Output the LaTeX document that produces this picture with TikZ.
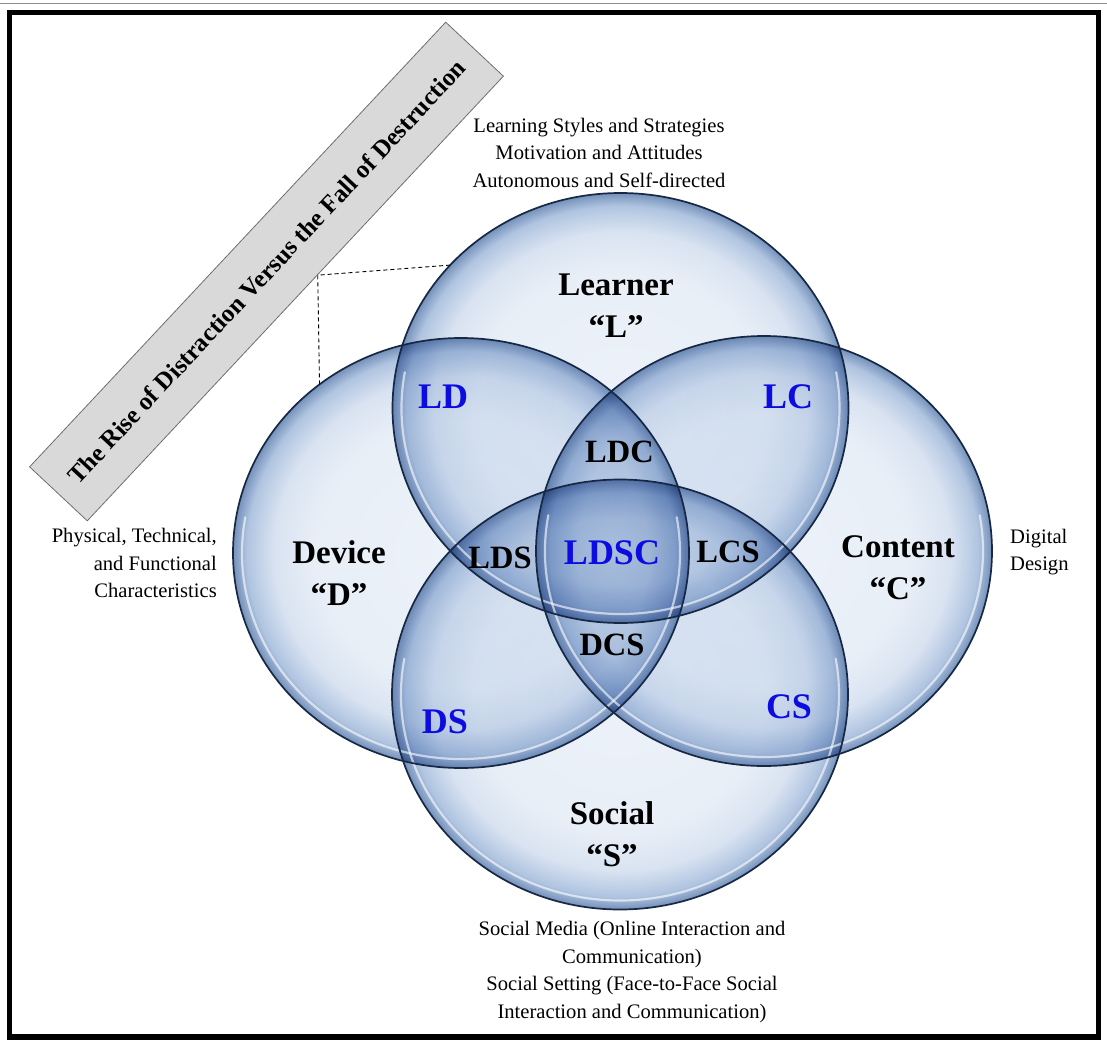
\documentclass[tikz,border=0pt]{standalone}
\usepackage{fontspec}
\setmainfont{Liberation Serif}
\usetikzlibrary{shapes.geometric,calc}

\definecolor{vblue}{RGB}{12,12,225}
\definecolor{rimline}{RGB}{22,40,68}
\definecolor{bannerfill}{RGB}{217,217,217}
\definecolor{bannerline}{RGB}{110,110,110}

% glassy disc: pale centre, blue rim
\pgfdeclareradialshading{glass}{\pgfpoint{0bp}{0bp}}{%
  rgb(0bp)=(0.93,0.95,0.978);
  rgb(16bp)=(0.91,0.935,0.968);
  rgb(20.5bp)=(0.85,0.89,0.945);
  rgb(23.5bp)=(0.69,0.77,0.88);
  rgb(25bp)=(0.46,0.57,0.73);
  rgb(50bp)=(0.46,0.57,0.73)}

\begin{document}
\begin{tikzpicture}[x=1pt,y=-1pt,
  venn/.style={ellipse, minimum width=456pt, minimum height=430pt,
    inner sep=0pt, outer sep=0pt, shade, shading=glass, blend mode=multiply},
  glint/.style={draw=white, line width=2.2pt, line cap=round, opacity=0.6},
  rim/.style={draw=rimline, line width=1.7pt},
  vtitle/.style={align=center, inner sep=0pt, font=\fontsize{33}{42}\selectfont\bfseries},
  pairlab/.style={inner sep=0pt, text=vblue, font=\fontsize{36}{40}\selectfont\bfseries},
  triplab/.style={inner sep=0pt, font=\fontsize{32.5}{36}\selectfont\bfseries},
  note/.style={inner sep=0pt, align=center, font=\fontsize{20.6}{27.5}\selectfont},
  banner/.style={draw=bannerline, fill=bannerfill, line width=0.8pt, rotate=46.9,
    minimum width=609pt, minimum height=79pt, inner sep=0pt,
    font=\fontsize{25}{30}\selectfont\bfseries},
  callout/.style={draw=black, line width=0.9pt, dash pattern=on 4pt off 3pt},
  frame/.style={draw=black, line width=5.5pt, line join=miter}
]
\useasboundingbox (0,0) rectangle (1107,1046);
\fill[white] (0,0) rectangle (1107,1046);
\draw[black!45, line width=0.8pt] (0,3.5) -- (1107,3.5);
\draw[frame] (9.5,12.5) rectangle (1098.5,1037);

% the four sets
\node[venn] (L) at (620.5,408) {};
\node[venn] (D) at (461,553) {};
\node[venn] (C) at (764,551) {};
\node[venn] (S) at (620,694.5) {};

% light reflections and outlines
\foreach \c in {L,D,C,S}
  \draw[glint] ([shift={(190:219 and 206)}]\c.center)
     arc[start angle=190, end angle=-10, x radius=219, y radius=206];
\foreach \c in {L,D,C,S}
  \draw[rim] (\c.center) ellipse[x radius=228, y radius=215];

% banner and its callout
\node[banner] (B) at (266.5,271.5) {The Rise of Distraction Versus the Fall of Destruction};
\coordinate (K) at ($(B.south west)!0.553!(B.south east)$);
\draw[callout] (L.140) -- (K) -- (D.130.4);

% set names
\node[vtitle] (tL) at (616,306) {Learner\\“L”};
\node[vtitle] (tD) at (339,573.5) {Device\\“D”};
\node[vtitle] (tC) at (898,568) {Content\\“C”};
\node[vtitle] (tS) at (612,834) {Social\\“S”};

% overlaps
\node[pairlab] (LD) at (443,397) {LD};
\node[pairlab] (LC) at (788,397) {LC};
\node[pairlab] (DS) at (445,722) {DS};
\node[pairlab] (CS) at (789,706.5) {CS};
\node[pairlab] (LDSC) at (612,552.5) {LDSC};
\node[triplab] (LDC) at (619.5,452) {LDC};
\node[triplab] (LDS) at (500,558) {LDS};
\node[triplab] (LCS) at (728,552) {LCS};
\node[triplab] (DCS) at (612,645) {DCS};

% descriptions
\node[note] (nL) at (599,152.5) {Learning Styles and Strategies\\Motivation and Attitudes\\Autonomous and Self-directed};
\node[note, align=right, anchor=east] (nD) at (217,563) {Physical, Technical,\\and Functional\\Characteristics};
\node[note, align=left, anchor=west] (nC) at (1010,552) {Digital\\Design};
\node[note] (nS) at (632,972) {Social Media (Online Interaction and\\Communication)\\Social Setting (Face-to-Face Social\\Interaction and Communication)};
\end{tikzpicture}
\end{document}
